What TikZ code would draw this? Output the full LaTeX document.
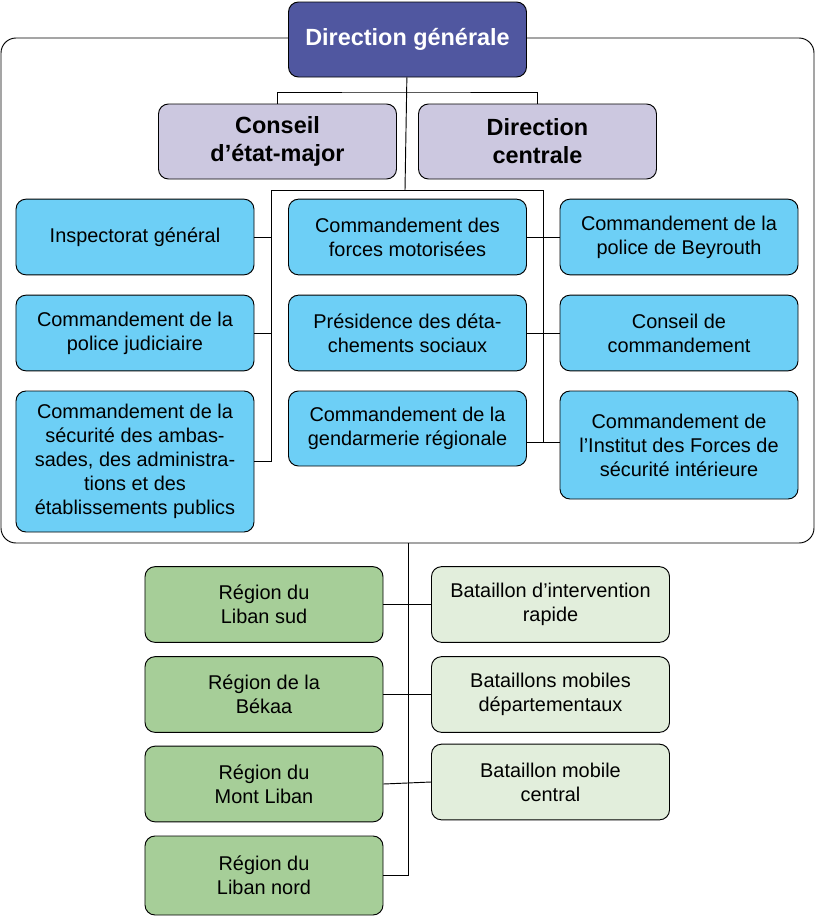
\documentclass[tikz,border=0pt]{standalone}
\usepackage{fontspec}
\setmainfont{Liberation Sans}
\definecolor{dgblue}{HTML}{5057A0}
\definecolor{lavender}{HTML}{CCC8E0}
\definecolor{skyblue}{HTML}{6DCFF6}
\definecolor{darkgreen}{HTML}{A6CE98}
\definecolor{lightgreen}{HTML}{E2EEDC}
\tikzset{%
  % Specifications for style of nodes:
          base/.style = {rectangle, rounded corners=0.3cm, draw=black, thick,
                         minimum width=7.14cm, minimum height=2.27cm,
                         align=center, inner sep=2pt, font=\fontsize{17}{20.5}\selectfont},
       general/.style = {base, fill=dgblue, text=white, minimum height=2.25cm,
                         font=\fontsize{20}{24}\selectfont\bfseries},
        council/.style = {base, fill=lavender, minimum height=2.25cm,
                         font=\fontsize{20}{24}\selectfont\bfseries},
       command/.style = {base, fill=skyblue},
        region/.style = {base, fill=darkgreen},
     battalion/.style = {base, fill=lightgreen},
}
\begin{document}
\begin{tikzpicture}[x=0.03cm, y=-0.03cm]
  \useasboundingbox (0,0) rectangle (815,917);
  % Frame around the central services
  \draw[thick, rounded corners=0.45cm] (1,38) rectangle (814,543);
  % Specification of nodes (position, etc.)
  \node (dg)   [general] at (407.5,39.5) {Direction générale};
  \node (cem)  [council] at (277.5,141.5) {Conseil\\d’état-major};
  \node (dc)   [council] at (537.5,141.5) {Direction\\centrale};

  \node (cmd_l1) [command] at (135,237) {Inspectorat général};
  \node (cmd_l2) [command] at (135,333) {Commandement de la\\police judiciaire};
  \node (cmd_l3) [command, minimum height=4.23cm] at (135,461.5)
        {Commandement de la\\sécurité des ambas-\\sades, des administra-\\tions et des\\établissements publics};

  \node (cmd_m1) [command] at (407.5,237) {Commandement des\\forces motorisées};
  \node (cmd_m2) [command] at (407.5,333) {Présidence des déta-\\chements sociaux};
  \node (cmd_m3) [command, minimum height=2.25cm] at (407.5,428.5) {Commandement de la\\gendarmerie régionale};

  \node (cmd_r1) [command] at (679,237) {Commandement de la\\police de Beyrouth};
  \node (cmd_r2) [command] at (679,333) {Conseil de\\commandement};
  \node (cmd_r3) [command, minimum height=3.24cm] at (679,445)
        {Commandement de\\l’Institut des Forces de\\sécurité intérieure};

  \node (reg_1) [region] at (264,604.5) {Région du\\Liban sud};
  \node (reg_2) [region] at (264,694.5) {Région de la\\Békaa};
  \node (reg_3) [region] at (264,784)   {Région du\\Mont Liban};
  \node (reg_4) [region, minimum height=2.37cm] at (264,875.5) {Région du\\Liban nord};

  \node (bat_1) [battalion] at (550.5,604.5) {Bataillon d’intervention\\rapide};
  \node (bat_2) [battalion] at (550.5,694.5) {Bataillons mobiles\\départementaux};
  \node (bat_3) [battalion] at (550.5,782)   {Bataillon mobile\\central};

  % Junction points of the connectors
  \coordinate (top)    at (405,92);
  \coordinate (split)  at (405,190);
  \coordinate (bl)     at (271,190);
  \coordinate (br)     at (543,190);
  \coordinate (brEnd)  at (543,442);
  \coordinate (fb)     at (408,543);

  % Specification of lines between nodes specified above
  \draw[thick] (dg) -- (split);
  \draw[thick] (cem.north) |- (top) -| (dc.north);
  \draw[thick] (cmd_l3.east) -| (bl) -- (br) -- (brEnd);
  \draw[thick] (cmd_l1.east) -- (cmd_l1.east -| bl);
  \draw[thick] (cmd_l2.east) -- (cmd_l2.east -| bl);
  \draw[thick] (cmd_m1.east) -- (cmd_r1.west);
  \draw[thick] (cmd_m2.east) -- (cmd_r2.west);
  \draw[thick] (cmd_m3.east |- brEnd) -- (cmd_r3.west |- brEnd);

  \draw[thick] (fb) |- (reg_4.east);
  \draw[thick] (reg_1.east) -- (bat_1.west);
  \draw[thick] (reg_2.east) -- (bat_2.west);
  \draw[thick] (reg_3.east) -- (bat_3.west);
\end{tikzpicture}
\end{document}
